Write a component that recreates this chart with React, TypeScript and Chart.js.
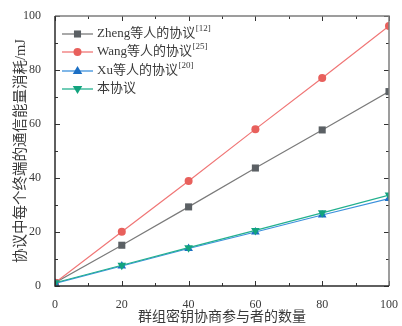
import React, { useEffect, useRef } from "react";
import { Chart, registerables } from "chart.js";
Chart.register(...registerables);

const xValues = [0, 20, 40, 60, 80, 100];
const zhengValues = [1.2, 15.1, 29.3, 43.7, 57.8, 72.0];
const wangValues = [1.2, 20.1, 38.9, 58.1, 77.0, 96.3];
const xuValues = [1.0, 7.4, 13.9, 20.0, 26.3, 32.4];
const oursValues = [1.2, 7.7, 14.2, 20.6, 27.1, 33.7];
const seriesNames = ["Zheng等人的协议", "Wang等人的协议", "Xu等人的协议", "本协议"];
const seriesRefs = ["[12]", "[25]", "[20]", ""];
const xTitle = "群组密钥协商参与者的数量";
const yTitle = "协议中每个终端的通信能量消耗/mJ";

const FONT = "'Liberation Serif', 'Noto Sans CJK SC', serif";

const styles = [
  { line: "#7a7a7a", marker: "#5b6064", shape: "rect", r: 5, rot: 0 },
  { line: "#f07676", marker: "#e8605c", shape: "circle", r: 4, rot: 0 },
  { line: "#3b90dc", marker: "#1c6fc4", shape: "triangle", r: 5, rot: 0 },
  { line: "#22b08e", marker: "#12a37e", shape: "triangle", r: 5, rot: 180 },
];

function drawMarker(ctx: CanvasRenderingContext2D, shape: string, x: number, y: number, r: number, rot: number, color: string) {
  ctx.save();
  ctx.fillStyle = color;
  ctx.beginPath();
  if (shape === "rect") {
    const s = r * Math.SQRT1_2;
    ctx.rect(x - s, y - s, 2 * s, 2 * s);
  } else if (shape === "circle") {
    ctx.arc(x, y, r, 0, Math.PI * 2);
  } else {
    const sign = rot === 180 ? -1 : 1;
    ctx.moveTo(x, y - sign * r);
    ctx.lineTo(x - r * 0.95, y + sign * r * 0.6);
    ctx.lineTo(x + r * 0.95, y + sign * r * 0.6);
    ctx.closePath();
  }
  ctx.fill();
  ctx.restore();
}

const framePlugin = {
  id: "frame",
  afterDatasetsDraw(chart: any) {
    const { ctx, chartArea: a, scales } = chart;
    const xs = scales.x, ys = scales.y;
    ctx.save();
    ctx.strokeStyle = "#333";
    ctx.lineWidth = 1;
    for (let v = 0; v <= 100; v += 10) {
      const len = v % 20 === 0 ? 5 : 3;
      const px = Math.round(xs.getPixelForValue(v)) + 0.5;
      const py = Math.round(ys.getPixelForValue(v)) + 0.5;
      ctx.beginPath();
      ctx.moveTo(px, a.bottom); ctx.lineTo(px, a.bottom - len);
      ctx.moveTo(px, a.top); ctx.lineTo(px, a.top + len);
      ctx.moveTo(a.left, py); ctx.lineTo(a.left + len, py);
      ctx.moveTo(a.right, py); ctx.lineTo(a.right - len, py);
      ctx.stroke();
    }
    ctx.strokeStyle = "#7d7d7d";
    ctx.lineWidth = 1.5;
    ctx.beginPath();
    ctx.moveTo(a.left, a.top); ctx.lineTo(a.right, a.top); ctx.lineTo(a.right, a.bottom);
    ctx.stroke();
    ctx.strokeStyle = "#2b2b2b";
    ctx.beginPath();
    ctx.moveTo(a.left, a.top); ctx.lineTo(a.left, a.bottom); ctx.lineTo(a.right, a.bottom);
    ctx.stroke();

    const lx0 = 62, lx1 = 93, tx = 97;
    const rows = [34, 52, 71, 89];
    seriesNames.forEach((name, i) => {
      const st = styles[i];
      const y = rows[i];
      ctx.strokeStyle = st.line;
      ctx.lineWidth = 1.3;
      ctx.beginPath();
      ctx.moveTo(lx0, y); ctx.lineTo(lx1, y);
      ctx.stroke();
      drawMarker(ctx, st.shape, (lx0 + lx1) / 2, y, st.r, st.rot, st.marker);
      ctx.fillStyle = "#3a3a3a";
      ctx.textBaseline = "middle";
      ctx.textAlign = "left";
      ctx.font = `13px ${FONT}`;
      ctx.fillText(name, tx, y);
      const w = ctx.measureText(name).width;
      if (seriesRefs[i]) {
        ctx.font = `9px ${FONT}`;
        ctx.fillText(seriesRefs[i], tx + w + 0.5, y - 5);
      }
    });
    ctx.restore();
  },
};

export default function App() {
  const ref = useRef<HTMLCanvasElement>(null);
  useEffect(() => {
    if (!ref.current) return;
    const series = [zhengValues, wangValues, xuValues, oursValues];
    const chart = new Chart(ref.current, {
      type: "line",
      data: {
        datasets: series.map((vals, i) => ({
          label: seriesNames[i] + seriesRefs[i],
          data: vals.map((v, j) => ({ x: xValues[j], y: v })),
          borderColor: styles[i].line,
          backgroundColor: styles[i].marker,
          pointBackgroundColor: styles[i].marker,
          pointBorderWidth: 0,
          pointStyle: styles[i].shape as any,
          pointRotation: styles[i].rot,
          pointRadius: styles[i].r,
          borderWidth: 1.2,
          clip: 0,
          tension: 0,
        })).reverse(),
      },
      options: {
        animation: false,
        responsive: false,
        maintainAspectRatio: false,
        layout: { padding: { left: 0, top: 16, right: 13, bottom: 0 } },
        plugins: { legend: { display: false }, tooltip: { enabled: false } },
        scales: {
          x: {
            type: "linear",
            min: 0,
            max: 100,
            afterFit: (s: any) => { s.height = 40; },
            grid: { display: false },
            border: { display: false },
            ticks: { stepSize: 20, padding: 4, color: "#3a3a3a", font: { family: FONT, size: 12 } },
            title: { display: true, text: xTitle, color: "#3a3a3a", font: { family: FONT, size: 14 }, padding: { top: 0, bottom: 0 } },
          },
          y: {
            type: "linear",
            min: 0,
            max: 100,
            afterFit: (s: any) => { s.width = 55; },
            grid: { display: false },
            border: { display: false },
            ticks: { stepSize: 20, padding: 6, color: "#3a3a3a", font: { family: FONT, size: 12 } },
            title: { display: true, text: yTitle, color: "#3a3a3a", font: { family: FONT, size: 14.5 }, padding: { top: 12, bottom: 0 } },
          },
        },
      },
      plugins: [framePlugin],
    });
    return () => chart.destroy();
  }, []);
  return (
    <div style={{ position: "fixed", left: 0, top: 0, width: 402, height: 326, background: "#fff" }}>
      <canvas ref={ref} width={402} height={326} style={{ display: "block" }} />
    </div>
  );
}
